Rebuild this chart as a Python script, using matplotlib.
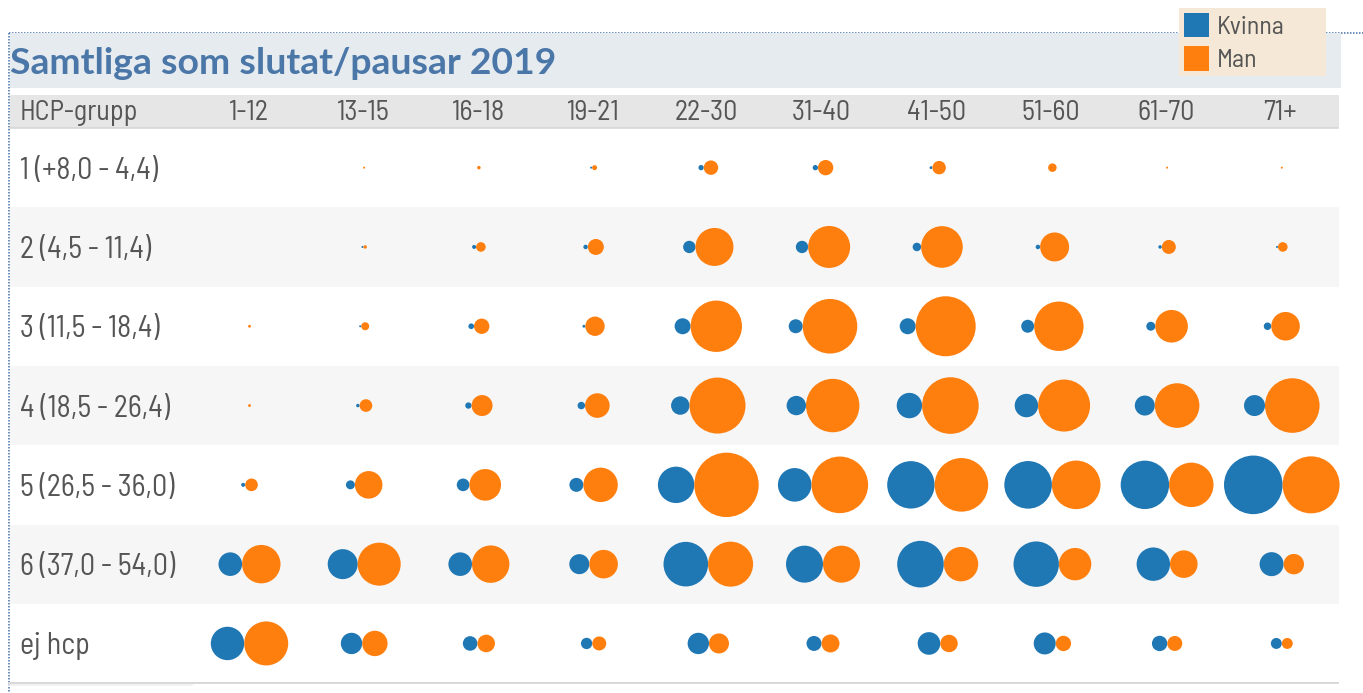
import numpy as np
import matplotlib
matplotlib.use("Agg")
import matplotlib.pyplot as plt
from matplotlib.patches import Circle, Rectangle
from matplotlib.lines import Line2D

# ---------------- data ----------------
title = "Samtliga som slutat/pausar 2019"
header_label = "HCP-grupp"
age_groups = ["1-12", "13-15", "16-18", "19-21", "22-30", "31-40", "41-50", "51-60", "61-70", "71+"]
hcp_groups = ["1 (+8,0 - 4,4)", "2 (4,5 - 11,4)", "3 (11,5 - 18,4)", "4 (18,5 - 26,4)",
              "5 (26,5 - 36,0)", "6 (37,0 - 54,0)", "ej hcp"]
series_names = ["Kvinna", "Man"]

# estimated counts (bubble area), one list per HCP group, columns = age groups
kvinna = [
    [0, 0, 0, 1, 7, 7, 2, 0, 0, 0],
    [0, 1, 4, 5, 38, 38, 18, 5, 3, 1],
    [0, 1, 8, 2, 64, 49, 64, 42, 20, 14],
    [0, 3, 10, 14, 85, 94, 161, 137, 100, 110],
    [4, 20, 40, 49, 331, 282, 562, 566, 586, 858],
    [139, 225, 139, 100, 497, 342, 543, 515, 279, 144],
    [279, 114, 53, 32, 114, 56, 128, 121, 59, 30],
]
man = [
    [0, 1, 3, 6, 52, 59, 45, 18, 1, 1],
    [0, 3, 23, 64, 361, 441, 433, 210, 49, 23],
    [2, 16, 59, 94, 660, 745, 900, 610, 266, 204],
    [2, 40, 110, 151, 784, 713, 801, 676, 497, 745],
    [40, 190, 250, 296, 1037, 801, 718, 590, 493, 812],
    [369, 462, 350, 204, 506, 342, 296, 262, 190, 104],
    [484, 161, 77, 49, 100, 81, 76, 59, 56, 30],
]

# ---------------- style / layout ----------------
W, H = 1363, 693
C_K = "#1f77b4"
C_M = "#ff7f0e"
TITLE_C = "#4a77a8"
TEXT_C = "#555555"
BODY_FONT = ["Barlow Semi Condensed", "Roboto Condensed", "Liberation Sans Narrow", "DejaVu Sans"]
TITLE_FONT = ["Lato", "Open Sans", "DejaVu Sans"]

left, right = 9, 1338
row_top, row_h = 128, 79.3
col0, col_dx = 248, 114.7
bubble_dx = 1.5  # small horizontal nudge of bubble pairs
size_scale = 1.0  # px radius per sqrt(count)

fig = plt.figure(figsize=(W / 100, H / 100), dpi=100)
ax = fig.add_axes([0, 0, 1, 1])
ax.set_xlim(0, W)
ax.set_ylim(H, 0)
ax.axis("off")

px = 72 / 100  # points per pixel


def fit_width(t, target):
    r = fig.canvas.get_renderer()
    w = t.get_window_extent(r).width
    t.set_fontsize(t.get_fontsize() * target / w)


# dotted frame
ax.add_line(Line2D([left, W], [32.5, 32.5], color="#3f6fa6", lw=1.5 * px, ls=(0, (1.0, 1.0)), zorder=1))
ax.add_line(Line2D([8.5, 8.5], [32.5, H], color="#3f6fa6", lw=1.5 * px, ls=(0, (1.0, 1.0)), zorder=1))

# title band
ax.add_patch(Rectangle((left + 0.5, 33.3), 1340 - left, 55, color="#e6ebf0", lw=0, zorder=2))
t_title = ax.text(10, 74.5, title, fontsize=28, fontweight="bold", color=TITLE_C,
                  family=TITLE_FONT, va="baseline", ha="left", zorder=5)

# header band
ax.add_patch(Rectangle((left + 0.5, 95), right - left, 32.5, color="#e6e6e6", lw=0, zorder=2))
ax.add_line(Line2D([left, right], [127.5, 127.5], color="#d4d4d4", lw=1.5 * px, zorder=3))
t_head = ax.text(20, 120.5, header_label, fontsize=16, color=TEXT_C, family=BODY_FONT,
                 va="baseline", ha="left", zorder=5)

# row backgrounds
n_rows = len(hcp_groups)
for i in range(n_rows):
    if i % 2 == 1:
        ax.add_patch(Rectangle((left + 0.5, row_top + i * row_h), right - left, row_h,
                               color="#f6f6f6", lw=0, zorder=1.5))

# bottom lines
y_bot = row_top + n_rows * row_h
ax.add_line(Line2D([left, right], [y_bot, y_bot], color="#d9d9d9", lw=2 * px, zorder=3))
ax.add_line(Line2D([left, 192], [y_bot + 2, y_bot + 2], color="#eeeeee", lw=1.5 * px, zorder=3))

# fit fonts
fig.canvas.draw()
fit_width(t_title, 547)
fit_width(t_head, 118)
head_fs = t_head.get_fontsize()

col_x = col0 + col_dx * np.arange(len(age_groups))
for j, a in enumerate(age_groups):
    ax.text(col_x[j], 120.5, a, fontsize=head_fs, color=TEXT_C, family=BODY_FONT,
            va="baseline", ha="center", zorder=5)

row_y = row_top + row_h * (np.arange(n_rows) + 0.5)
t0 = ax.text(20, row_y[0], hcp_groups[0], fontsize=18, color=TEXT_C, family=BODY_FONT,
             va="center_baseline", ha="left", zorder=5)
fit_width(t0, 137)
row_fs = t0.get_fontsize()
for i, g in enumerate(hcp_groups[1:], start=1):
    ax.text(20, row_y[i], g, fontsize=row_fs, color=TEXT_C, family=BODY_FONT,
            va="center_baseline", ha="left", zorder=5)

# bubbles
K = np.sqrt(np.array(kvinna, dtype=float)) * size_scale
M = np.sqrt(np.array(man, dtype=float)) * size_scale
for i in range(n_rows):
    for j in range(len(age_groups)):
        rb, ro = K[i, j], M[i, j]
        c = col_x[j] + bubble_dx
        if rb > 0:
            ax.add_patch(Circle((c - ro, row_y[i]), rb, color=C_K, lw=0, zorder=4))
        if ro > 0:
            ax.add_patch(Circle((c + rb, row_y[i]), ro, color=C_M, lw=0, zorder=4))

# legend
ax.add_patch(Rectangle((1179, 7.5), 147, 68, color="#f5e8d6", lw=0, zorder=6))
leg_y = [24.5, 58]
leg_c = [C_K, C_M]
leg_texts = []
for k, name in enumerate(series_names):
    ax.add_patch(Rectangle((1184, leg_y[k] - 12), 24.5, 24.5, color=leg_c[k], lw=0, zorder=7))
    leg_texts.append(ax.text(1217, leg_y[k], name, fontsize=16, color=TEXT_C, family=BODY_FONT,
                             va="center_baseline", ha="left", zorder=7))
fit_width(leg_texts[0], 68)
for lt in leg_texts[1:]:
    lt.set_fontsize(leg_texts[0].get_fontsize())

fig.savefig("out.png", dpi=100)
